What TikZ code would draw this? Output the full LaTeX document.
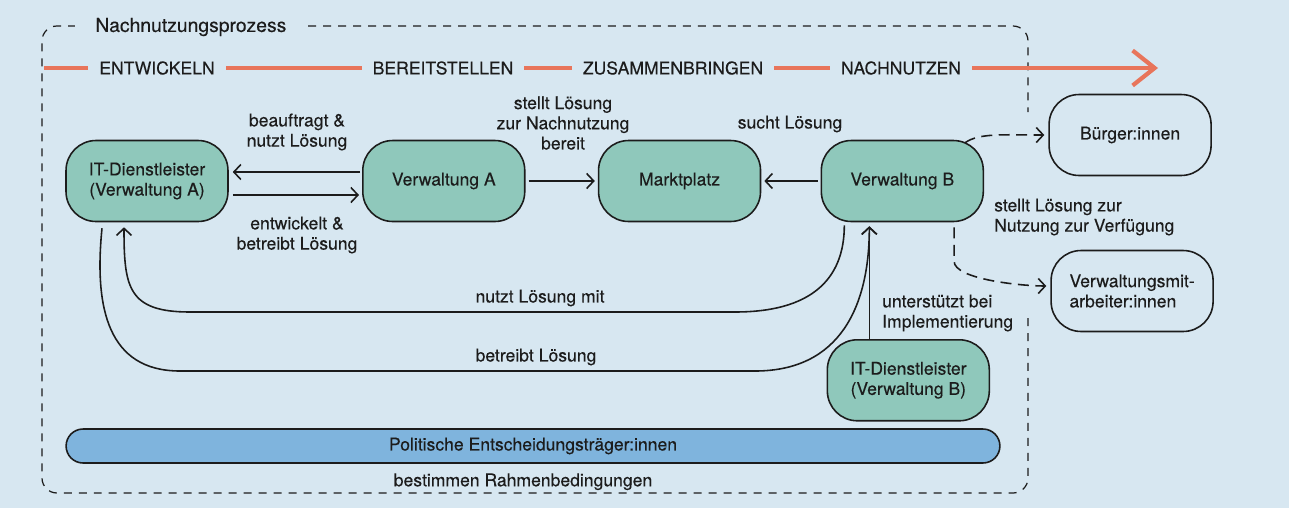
\documentclass[tikz,border=0pt]{standalone}
\usepackage{fontspec}
\setmainfont{TeX Gyre Heros}
\newfontfamily\mittel{TeX Gyre Heros}[FakeBold=0.25]
\usetikzlibrary{arrows.meta,calc,positioning}
\definecolor{hinter}{HTML}{D7E7F1}
\definecolor{tuerkis}{HTML}{8FC8BB}
\definecolor{politik}{HTML}{7FB4DD}
\definecolor{orangerot}{HTML}{E8755B}
\definecolor{schrift}{HTML}{1C1C1C}
\tikzstyle{akteur}=[draw=schrift, line width=0.9pt, fill=tuerkis, text=schrift,
  minimum width=3.24cm, minimum height=1.62cm, rounded corners=0.6cm,
  align=center, font=\mittel\fontsize{10}{11.5}\selectfont]
\tikzstyle{nutzer} = [akteur, fill=none]
\tikzstyle{beschrift} = [align=center, text=schrift, font=\mittel\fontsize{10}{11.5}\selectfont]
\tikzstyle{phase} = [beschrift, fill=hinter, inner xsep=0.22cm, inner ysep=1pt]
\tikzstyle{rahmen} = [draw=schrift, line width=0.7pt, dash pattern=on 1.6mm off 1.4mm,
  rounded corners=0.3cm]
\tikzstyle{line} = [draw=schrift, line width=0.9pt,
  -{Straight Barb[length=1.4mm,width=3mm]}]
\tikzstyle{linepart} = [line, dash pattern=on 2.2mm off 1.3mm]
\tikzstyle{prozess} = [draw=orangerot, line width=2.4pt,
  -{Straight Barb[length=4.4mm,width=7mm]}]
\newcommand{\akteurknoten}[3]{node (#1) [#2] {#3}}

\begin{document}
\begin{tikzpicture}[x=0.02cm, y=-0.02cm]

  % background
  \fill[hinter] (0,0) rectangle (1289,508);
  \useasboundingbox (0,0) rectangle (1289,508);

  % dashed frame of the process
  \draw[rahmen] (1028,318) -- (1028,493) -- (42,493) -- (42,26) -- (1028,26) -- (1028,112);
  \node[beschrift, fill=hinter, inner xsep=0.4cm, anchor=west,
    font=\mittel\fontsize{11}{12}\selectfont] (TITEL) at (75,27) {Nachnutzungsprozess};

  % phases
  \draw[prozess] (44,68) -- (1158,68);
  \node[phase] (ENTW) at (157,68) {ENTWICKELN};
  \node[phase] (BEREIT) at (443,68) {BEREITSTELLEN};
  \node[phase] (ZUSAMMEN) at (673,68) {ZUSAMMENBRINGEN};
  \node[phase] (NACHN) at (901,68) {NACHNUTZEN};

  % actors
  \path (147,181) \akteurknoten{ITA}{akteur}{IT-Dienstleister\\(Verwaltung A)};
  \path (ITA.east)+(215,0) \akteurknoten{VA}{akteur}{Verwaltung A};
  \path (VA.east)+(154,0) \akteurknoten{MARKT}{akteur}{Marktplatz};
  \path (MARKT.east)+(141,0) \akteurknoten{VB}{akteur}{Verwaltung B};
  \path (VB.east)+(146,-46) \akteurknoten{BUERGER}{nutzer}{Bürger:innen};
  \path (VB.east)+(148,110) \akteurknoten{VM}{nutzer, align=left}{Verwaltungsmit-\\arbeiter:innen};
  \path (VB.south)+(6,158) \akteurknoten{ITB}{akteur}{IT-Dienstleister\\(Verwaltung B)};
  \node[draw=schrift, line width=0.9pt, fill=politik, text=schrift, minimum width=18.68cm,
    minimum height=0.68cm, rounded corners=0.34cm, font=\mittel\fontsize{10}{11}\selectfont]
    (POLITIK) at (533,446) {Politische Entscheidungsträger:innen};
  \node[beschrift] (RAHMEN) at ($(POLITIK.south)+(-10,18)$) {bestimmen Rahmenbedingungen};

  % arrows between the actors
  \path [line] ($(VA.west)+(-2,-9)$) -- ($(ITA.east)+(4,-9)$);
  \path [line] ($(ITA.east)+(4,14)$) -- ($(VA.west)+(-3,14)$);
  \node[beschrift] (AUFTRAG) at (297,132) {beauftragt \&\\nutzt Lösung};
  \node[beschrift] (ENTWICKELT) at (297,235) {entwickelt \&\\betreibt Lösung};

  \path [line] ($(VA.east)+(3,0)$) -- ($(MARKT.west)+(-3,0)$);
  \node[beschrift] (STELLT) at (563,123) {stellt Lösung\\zur Nachnutzung\\bereit};
  \path [line] ($(VB.west)+(-3,0)$) -- ($(MARKT.east)+(3,0)$);
  \node[beschrift] (SUCHT) at (790,124) {sucht Lösung};

  % long connectors below
  \coordinate (VBPFEIL) at ($(VB.south)+(-33,4)$);
  \path [line] ($(VB.south)+(-58,3)$) .. controls +(0,55) and +(75,0) .. (735,312)
    -- (190,312) .. controls +(-62,0) and +(0,60) .. ($(ITA.south)+(-23,5)$);
  \node[beschrift] (NUTZT) at (540,298) {nutzt Lösung mit};
  \path [line] ($(ITA.south)+(-45,6)$) .. controls +(-8,80) and +(-72,0) .. (180,371)
    -- (755,371) .. controls +(85,0) and +(0,80) .. (VBPFEIL);
  \node[beschrift] (BETREIBT) at (536,357) {betreibt Lösung};
  \path [line] (ITB.north -| VBPFEIL) -- (VBPFEIL);
  \node[beschrift, align=left, anchor=west] (UNTERST) at (876,313) {unterstützt bei\\Implementierung};

  % dashed connectors to the users
  \path [linepart] ($(VB.north east)+(-19,3)$) .. controls +(14,-10) and +(-40,0)
    .. ($(BUERGER.west)+(-4,0)$);
  \path [linepart] ($(VB.south east)+(-30,5)$) -- ++(0,34) .. controls +(0,18) and +(-25,0)
    .. ($(VM.west)+(-4,-5)$);
  \node[beschrift, align=left, anchor=west] (VERFUEG) at (988,217) {stellt Lösung zur\\Nutzung zur Verfügung};

\end{tikzpicture}
\end{document}
